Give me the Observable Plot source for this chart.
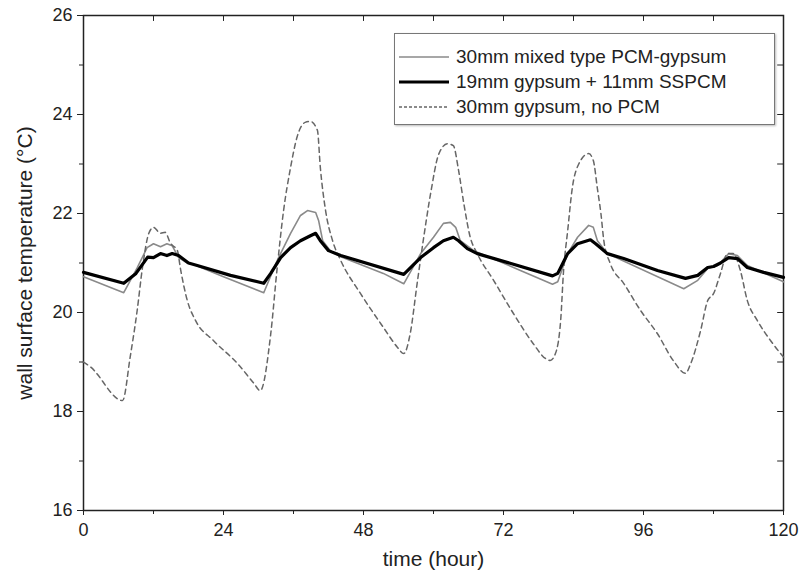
<!DOCTYPE html>
<html>
<head>
<meta charset="utf-8">
<script src="https://cdn.jsdelivr.net/npm/d3@7"></script>
<script src="https://cdn.jsdelivr.net/npm/@observablehq/plot@0.6"></script>
<style>
  html, body { margin: 0; padding: 0; background: #fff; }
  #wrap { position: relative; width: 809px; height: 583px; font-family: "Liberation Sans", Arial, sans-serif; }
  #legend { position: absolute; left: 394px; top: 33px; width: 381px; height: 92px; border: 1.5px solid #777;
            background: #fff; box-shadow: 1px 1px 2px #bbb; box-sizing: border-box; }
  .row { position: absolute; left: 3px; height: 24px; display: flex; align-items: center; font-size: 19px; color: #222; white-space: nowrap; }
  .row svg { margin-right: 6px; }
</style>
</head>
<body>
<div id="wrap"></div>
<script>
// ---- data (hour, °C) ----
const xTicks = [0, 24, 48, 72, 96, 120];
const yTicks = [16, 18, 20, 22, 24, 26];
const seriesNames = ["30mm mixed type PCM-gypsum", "19mm gypsum + 11mm SSPCM", "30mm gypsum, no PCM"];

const mixedPCM = [[0,20.72],[6.9,20.4],[9.2,20.9],[10.9,21.31],[12,21.39],[13.2,21.33],[14.3,21.39],[15.2,21.35],[16.3,21.11],[17.8,21.0],[18.9,20.97],[24,20.72],[30.9,20.4],[33.2,21.05],[35.5,21.6],[37.2,21.96],[38.4,22.06],[39.8,22.02],[40.3,21.86],[41,21.45],[42.3,21.25],[44,21.13],[51.4,20.79],[54.9,20.58],[57.8,21.19],[60,21.52],[61.7,21.8],[62.9,21.82],[63.8,21.72],[64.6,21.45],[66.9,21.25],[74.9,20.85],[80.4,20.57],[81.3,20.62],[83,21.19],[84.7,21.52],[86.6,21.76],[87.4,21.72],[88.1,21.45],[89.8,21.19],[102.9,20.48],[105.3,20.65],[107,20.89],[108.7,20.95],[110.6,21.19],[112.1,21.15],[113.8,20.95],[120,20.62]];

const ssPCM = [[0,20.81],[6.9,20.59],[9,20.79],[11,21.12],[12,21.11],[13.2,21.19],[14.3,21.15],[15.2,21.19],[16.3,21.15],[18,21.0],[19.5,20.95],[25.2,20.75],[30.9,20.59],[32.1,20.79],[33.8,21.11],[35.5,21.31],[37.2,21.45],[38.9,21.55],[39.8,21.6],[40.6,21.45],[42,21.25],[44.1,21.15],[54.9,20.77],[57.8,21.11],[60,21.31],[61.7,21.45],[63.4,21.52],[64.3,21.45],[65.8,21.29],[67.5,21.19],[80.4,20.74],[81.3,20.79],[83,21.19],[84.7,21.39],[86.9,21.47],[87.8,21.39],[89.8,21.19],[92.6,21.09],[98.4,20.85],[103.2,20.69],[105.3,20.75],[107,20.91],[108,20.93],[109.2,21.0],[110.6,21.11],[112.1,21.09],[113.8,20.91],[116.6,20.81],[120,20.71]];

const noPCM = [[0,19.0],[1.2,18.9],[6.7,18.22],[8,19.1],[9.2,20.04],[10.1,20.9],[11.2,21.6],[12,21.72],[13.2,21.6],[14,21.62],[14.9,21.4],[16.1,21.25],[16.6,20.9],[17.8,20.24],[19.2,19.84],[22.3,19.43],[26.4,18.97],[29.2,18.57],[30.3,18.42],[32.1,19.57],[33.2,20.9],[34.3,22.06],[35.5,22.93],[36.6,23.54],[38,23.84],[38.9,23.86],[40.1,23.68],[40.6,22.93],[41.5,22.06],[42.7,21.45],[44.1,21.05],[47.5,20.38],[51.4,19.7],[53.8,19.3],[54.9,19.17],[56,19.57],[57.2,20.59],[58.3,21.5],[59.5,22.4],[60.9,23.2],[62.4,23.41],[63.4,23.37],[64.3,22.87],[65.2,22.2],[66.3,21.52],[67.5,21.19],[70.3,20.65],[73.7,19.98],[77.1,19.37],[79.2,19.07],[80,19.03],[80.9,19.17],[81.8,19.84],[82.3,20.85],[83,21.65],[83.8,22.52],[84.9,23.0],[86.6,23.21],[87.4,23.07],[88.1,22.5],[88.7,22.0],[89.2,21.45],[90.3,20.99],[92.6,20.59],[95.5,20.04],[98.4,19.57],[101.1,19.03],[103.2,18.77],[104.1,18.97],[105.8,19.64],[107,20.24],[108,20.38],[109.2,20.79],[110.4,21.19],[111.4,21.19],[112.6,20.85],[113.8,20.24],[115.5,19.84],[117.8,19.43],[120,19.1]];

const styles = [
  {stroke: "#8a8a8a", strokeWidth: 1.6, dash: null},
  {stroke: "#000", strokeWidth: 3.2, dash: null},
  {stroke: "#666", strokeWidth: 1.5, dash: "5,4"}
];

const font = "Liberation Sans, Arial, sans-serif";
const chart = Plot.plot({
  width: 809, height: 583,
  marginLeft: 83, marginRight: 26, marginTop: 15, marginBottom: 73,
  style: {fontFamily: font, background: "#fff", color: "#222"},
  x: {domain: [0, 120]},
  y: {domain: [16, 26]},
  marks: [
    Plot.frame({stroke: "#222", strokeWidth: 1.5}),
    Plot.axisX({ticks: xTicks, tickSize: 5, tickPadding: 8, fontSize: 18, label: null, stroke: "#222"}),
    Plot.axisX({ticks: d3.range(12, 120, 24), tickSize: 4, text: null, label: null}),
    Plot.axisY({ticks: yTicks, tickSize: 6, tickPadding: 5, fontSize: 18, label: null, stroke: "#222"}),
    Plot.axisY({ticks: d3.range(17, 26, 2), tickSize: 4, text: null, label: null}),
    Plot.ruleX(d3.range(12, 120, 12), {x: d => d, y1: 26, y2: 25.88, stroke: "#222"}),
    Plot.ruleY(d3.range(17, 26, 1), {y: d => d, x1: 120, x2: 119, stroke: "#222"}),
    Plot.line(mixedPCM, {x: d => d[0], y: d => d[1], stroke: styles[0].stroke, strokeWidth: styles[0].strokeWidth}),
    Plot.line(noPCM, {x: d => d[0], y: d => d[1], stroke: styles[2].stroke, strokeWidth: styles[2].strokeWidth, strokeDasharray: styles[2].dash, curve: "monotone-x"}),
    Plot.line(ssPCM, {x: d => d[0], y: d => d[1], stroke: styles[1].stroke, strokeWidth: styles[1].strokeWidth, strokeLinejoin: "round"}),
    Plot.text(["time (hour)"], {frameAnchor: "bottom", dy: 55, fontSize: 21, fill: "#222", textAnchor: "middle"}),
    Plot.text(["wall surface temperature (°C)"], {frameAnchor: "left", dx: -58, rotate: -90, fontSize: 21, fill: "#222", textAnchor: "middle", lineAnchor: "middle"})
  ]
});
const wrap = document.getElementById("wrap");
wrap.appendChild(chart);

// legend overlay
const legend = document.createElement("div");
legend.id = "legend";
const rowTops = [11, 36, 61];
seriesNames.forEach((name, i) => {
  const row = document.createElement("div");
  row.className = "row";
  row.style.top = rowTops[i] + "px";
  const s = styles[i];
  row.innerHTML = `<svg width="52" height="10"><line x1="1" y1="5" x2="51" y2="5" stroke="${s.stroke}" stroke-width="${s.strokeWidth}" ${s.dash ? `stroke-dasharray="3,2"` : ""}/></svg><span>${name}</span>`;
  legend.appendChild(row);
});
wrap.appendChild(legend);
</script>
</body>
</html>
